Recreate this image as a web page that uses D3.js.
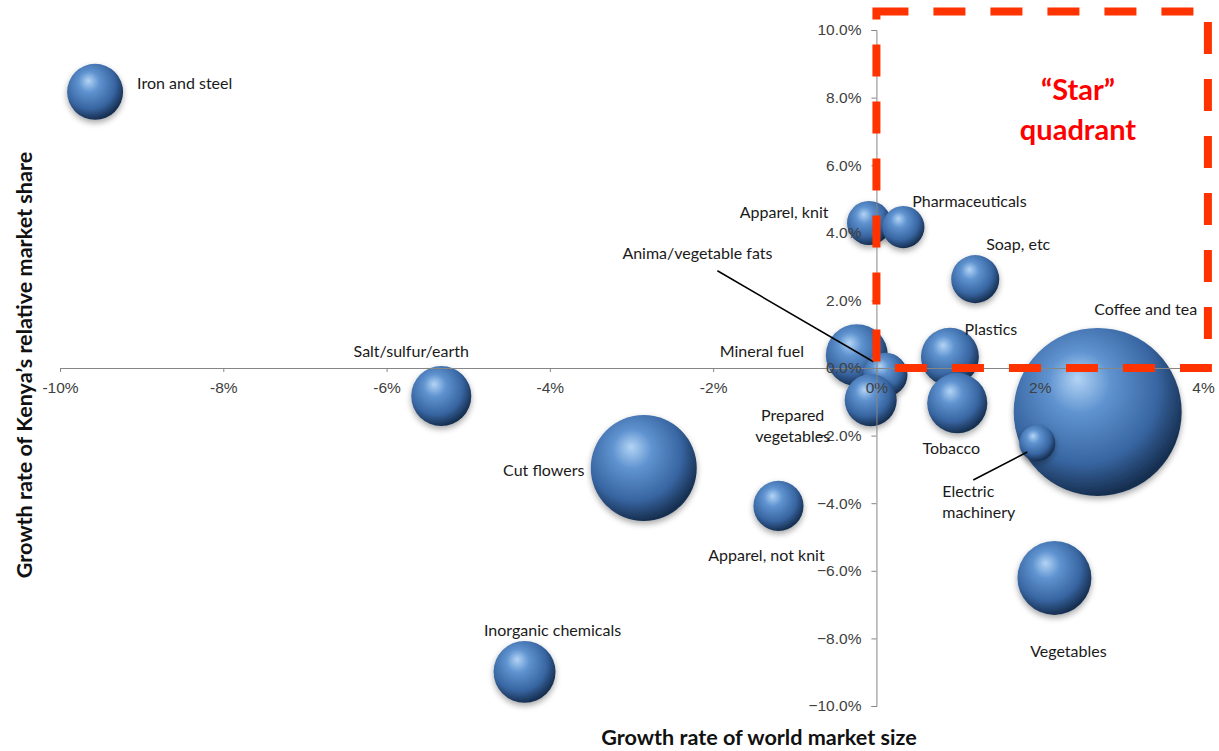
<!DOCTYPE html>
<html>
<head>
<meta charset="utf-8">
<script src="https://cdn.jsdelivr.net/npm/d3@7"></script>
<style>
  body { margin: 0; background: #fff; }
  svg { font-family: Lato, "Open Sans", sans-serif; }
  .tick text { fill: #404040; font-size: 15.5px; }
  .axis path, .axis line { stroke: #868686; }
  .lbl { font-size: 16px; fill: #1a1a1a; }
</style>
</head>
<body>
<svg width="1219" height="751"></svg>
<script>
// product groups
var products = ["Iron and steel", "Salt/sulfur/earth", "Cut flowers", "Apparel, not knit",
  "Inorganic chemicals", "Apparel, knit", "Pharmaceuticals", "Soap, etc", "Mineral fuel",
  "Anima/vegetable fats", "Prepared vegetables", "Plastics", "Tobacco", "Coffee and tea",
  "Electric machinery", "Vegetables"];
// growth rate of world market size (%)
var worldGrowth = [-9.57, -5.33, -2.85, -1.20, -4.31, -0.09, 0.33, 1.21, -0.24,
  0.11, -0.07, 0.90, 0.99, 2.71, 1.97, 2.18];
// growth rate of Kenya's relative market share (%)
var shareGrowth = [8.17, -0.83, -2.96, -4.08, -8.99, 4.29, 4.17, 2.63, 0.38,
  -0.20, -0.95, 0.33, -1.04, -1.30, -2.22, -6.21];
// bubble size (relative export value)
var exportSize = [111, 128, 398, 89, 136, 69, 63, 82, 136, 69, 96, 119, 128, 1000, 46, 194];

var xTicks = [-10, -8, -6, -4, -2, 0, 2, 4];
var yTicks = [-10, -8, -6, -4, -2, 0, 2, 4, 6, 8, 10];
var starX = [0, 4.06], starY = [0, 10.55];

var data = products.map(function (p, i) {
  return { name: p, x: worldGrowth[i], y: shareGrowth[i], s: exportSize[i] };
});

// label placement (pixel offsets from bubble centre)
var labelPos = {
  "Iron and steel": { dx: 42, dy: -8, anchor: "start" },
  "Salt/sulfur/earth": { dx: -30, dy: -45 },
  "Cut flowers": { dx: -100, dy: 2 },
  "Apparel, not knit": { dx: -12, dy: 49 },
  "Inorganic chemicals": { dx: 28, dy: -41 },
  "Apparel, knit": { dx: -85, dy: -11 },
  "Pharmaceuticals": { dx: 66, dy: -26 },
  "Soap, etc": { dx: 43, dy: -35 },
  "Mineral fuel": { dx: -95, dy: -4 },
  "Anima/vegetable fats": { dx: -188, dy: -121, line: [-168, -104, -12, -13] },
  "Prepared vegetables": { dx: -78, dy: 15, lines: ["Prepared", "vegetables"] },
  "Plastics": { dx: 41, dy: -27 },
  "Tobacco": { dx: -6, dy: 45 },
  "Coffee and tea": { dx: 48, dy: -103 },
  "Electric machinery": { dx: -95, dy: 48, anchor: "start", lines: ["Electric", "machinery"], line: [-64, 37, -10, 9] },
  "Vegetables": { dx: 14, dy: 74 }
};

var svg = d3.select("svg");

var x = d3.scaleLinear().domain([-10, 4]).range([60, 1203]);
var y = d3.scaleLinear().domain([-10, 10]).range([706, 30]);
var r = d3.scaleSqrt().domain([0, 1000]).range([0, 84]);

// sphere shading
var defs = svg.append("defs");
var grad = defs.append("radialGradient").attr("id", "ball")
  .attr("cx", "42%").attr("cy", "38%").attr("r", "62%")
  .attr("fx", "38%").attr("fy", "30%");
grad.append("stop").attr("offset", "0%").attr("stop-color", "#b3d4f5");
grad.append("stop").attr("offset", "30%").attr("stop-color", "#5f93d0");
grad.append("stop").attr("offset", "72%").attr("stop-color", "#3866a2");
grad.append("stop").attr("offset", "100%").attr("stop-color", "#172f50");
var sh = defs.append("filter").attr("id", "shadow").attr("x", "-30%").attr("y", "-30%").attr("width", "160%").attr("height", "170%");
sh.append("feGaussianBlur").attr("in", "SourceAlpha").attr("stdDeviation", 3);
sh.append("feOffset").attr("dx", 0).attr("dy", 3).attr("result", "b");
sh.append("feComponentTransfer").append("feFuncA").attr("type", "linear").attr("slope", 0.35);
var mg = sh.append("feMerge");
mg.append("feMergeNode");
mg.append("feMergeNode").attr("in", "SourceGraphic");

// bubbles
svg.append("g").selectAll("circle")
  .data(data)
  .enter().append("circle")
  .attr("cx", function (d) { return x(d.x); })
  .attr("cy", function (d) { return y(d.y); })
  .attr("r", function (d) { return r(d.s); })
  .attr("fill", "url(#ball)")
  .attr("filter", "url(#shadow)");

// axes cross at 0
var xAxis = d3.axisBottom(x).tickValues(xTicks).tickSize(4).tickPadding(8)
  .tickFormat(function (d) { return d + "%"; });
var gx = svg.append("g").attr("class", "axis")
  .attr("transform", "translate(0," + y(0) + ")")
  .call(xAxis);
gx.selectAll(".tick text").attr("dy", "0.85em");

var yAxis = d3.axisLeft(y).tickValues(yTicks).tickSize(5).tickPadding(10)
  .tickFormat(function (d) { return d3.format(".1f")(d) + "%"; });
svg.append("g").attr("class", "axis")
  .attr("transform", "translate(" + x(0) + ",0)")
  .call(yAxis);
svg.selectAll(".axis .domain").attr("stroke", "#868686");

// labels and leader lines
var lab = svg.append("g");
data.forEach(function (d) {
  var p = labelPos[d.name], cx = x(d.x), cy = y(d.y);
  var t = lab.append("text").attr("class", "lbl")
    .attr("text-anchor", p.anchor || "middle")
    .attr("x", cx + p.dx).attr("y", cy + p.dy);
  (p.lines || [d.name]).forEach(function (l, i) {
    t.append("tspan").attr("x", cx + p.dx).attr("dy", i == 0 ? "0.35em" : "1.35em").text(l);
  });
  if (p.line) {
    lab.append("line")
      .attr("x1", cx + p.line[0]).attr("y1", cy + p.line[1])
      .attr("x2", cx + p.line[2]).attr("y2", cy + p.line[3])
      .attr("stroke", "#000").attr("stroke-width", 1.5);
  }
});

// "Star" quadrant box
svg.append("rect")
  .attr("x", x(starX[0])).attr("y", y(starY[1]))
  .attr("width", x(starX[1]) - x(starX[0]))
  .attr("height", y(starY[0]) - y(starY[1]))
  .attr("fill", "none")
  .attr("stroke", "#ff3300")
  .attr("stroke-width", 8)
  .attr("stroke-dasharray", "32 25");

svg.append("text")
  .attr("x", 1078).attr("y", 100)
  .attr("text-anchor", "middle")
  .style("font-size", "29px").style("font-weight", "bold").style("fill", "#ff0000")
  .text("\u201cStar\u201d");
svg.append("text")
  .attr("x", 1078).attr("y", 140)
  .attr("text-anchor", "middle")
  .style("font-size", "29px").style("font-weight", "bold").style("fill", "#ff0000")
  .text("quadrant");

// axis titles
svg.append("text")
  .attr("x", 759).attr("y", 745)
  .attr("text-anchor", "middle")
  .style("font-size", "21.6px").style("font-weight", "bold").style("fill", "#111")
  .text("Growth rate of world market size");
svg.append("text")
  .attr("transform", "translate(32,365) rotate(-90)")
  .attr("text-anchor", "middle")
  .style("font-size", "21.6px").style("font-weight", "bold").style("fill", "#111")
  .text("Growth rate of Kenya\u2019s relative market share");
</script>
</body>
</html>
